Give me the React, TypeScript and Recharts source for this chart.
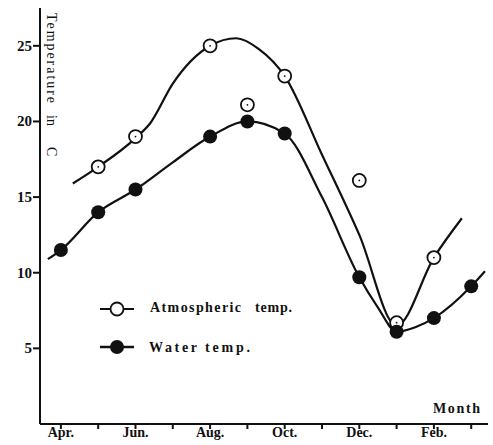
import React from 'react';
import { ComposedChart, Line, Scatter, XAxis, YAxis } from 'recharts';

// month index: Apr = 0 ... Mar = 11
const monthTicks = [0, 1, 2, 3, 4, 5, 6, 7, 8, 9, 10, 11];
const monthLabels = ['Apr.', '', 'Jun.', '', 'Aug.', '', 'Oct.', '', 'Dec.', '', 'Feb.', ''];
const tempTicks = [5, 10, 15, 20, 25];

// observed points
const atmMonths = [1, 2, 4, 5, 6, 8, 9, 10];
const atmTemps = [17.0, 19.0, 25.0, 21.1, 23.0, 16.1, 6.7, 11.0];
const waterMonths = [0, 1, 2, 4, 5, 6, 8, 9, 10, 11];
const waterTemps = [11.5, 14.0, 15.5, 19.0, 20.0, 19.2, 9.7, 6.1, 7.0, 9.1];

// freehand curves as drawn in the figure
const atmCurveMonths = [0.32, 1, 2, 2.4, 3, 4, 4.7, 5.3, 6, 7, 8, 9, 10, 10.75];
const atmCurveTemps = [15.9, 17.0, 18.9, 19.9, 22.5, 25.0, 25.5, 24.8, 23.0, 17.8, 12.5, 6.5, 11.0, 13.6];
const waterCurveMonths = [-0.35, 0, 1, 2, 3, 4, 5, 6, 7, 8, 8.5, 9, 9.5, 10, 11, 11.37];
const waterCurveTemps = [10.9, 11.5, 14.0, 15.5, 17.3, 19.0, 20.0, 19.2, 15.0, 9.7, 7.7, 6.1, 6.4, 7.0, 9.1, 10.1];

const pts = (xs: number[], ys: number[]) => xs.map((m, i) => ({ m, v: ys[i] }));

const atmPoints = pts(atmMonths, atmTemps);
const waterPoints = pts(waterMonths, waterTemps);
const atmCurve = pts(atmCurveMonths, atmCurveTemps);
const waterCurve = pts(waterCurveMonths, waterCurveTemps);

const INK = '#111';
const FONT = '"Liberation Serif", "DejaVu Serif", serif';

const OpenDot = (props: any) => (
  <g>
    <circle cx={props.cx} cy={props.cy} r={6.5} fill="#fff" stroke={INK} strokeWidth={1.8} />
    <circle cx={props.cx} cy={props.cy} r={0.9} fill={INK} />
  </g>
);

const FilledDot = (props: any) => (
  <circle cx={props.cx} cy={props.cy} r={7} fill={INK} />
);

const MonthTick = (props: any) => {
  const { x, y, payload } = props;
  return (
    <text x={x} y={y + 8} textAnchor="middle" fontFamily={FONT} fontWeight="bold" fontSize={14} fill={INK}>
      {monthLabels[payload.value]}
    </text>
  );
};

const TempTick = (props: any) => {
  const { x, y, payload } = props;
  return (
    <text x={x} y={y + 5} textAnchor="end" fontFamily={FONT} fontWeight="bold" fontSize={15} fill={INK}>
      {payload.value}
    </text>
  );
};

export default function App() {
  return (
    <div style={{ position: 'absolute', left: 0, top: 0, width: 493, height: 445, background: '#fff' }}>
      <ComposedChart width={493} height={445} margin={{ top: 8, right: 5, bottom: 0, left: 0 }}>
        <XAxis
          type="number"
          dataKey="m"
          domain={[-0.56, 11.45]}
          ticks={monthTicks}
          allowDataOverflow
          height={21}
          tickSize={5}
          tickMargin={0}
          tick={<MonthTick />}
          axisLine={{ stroke: INK, strokeWidth: 2 }}
          tickLine={{ stroke: INK, strokeWidth: 2 }}
        />
        <YAxis
          type="number"
          domain={[0, 27.5]}
          ticks={tempTicks}
          allowDataOverflow
          width={40}
          tickSize={7}
          tickMargin={1}
          tick={<TempTick />}
          axisLine={{ stroke: INK, strokeWidth: 2 }}
          tickLine={{ stroke: INK, strokeWidth: 2 }}
        />
        <Line data={atmCurve} dataKey="v" type="monotone" stroke={INK} strokeWidth={2.2} dot={false} activeDot={false} isAnimationActive={false} />
        <Line data={waterCurve} dataKey="v" type="monotone" stroke={INK} strokeWidth={2.2} dot={false} activeDot={false} isAnimationActive={false} />
        <Scatter data={atmPoints} dataKey="v" shape={<OpenDot />} isAnimationActive={false} />
        <Scatter data={waterPoints} dataKey="v" shape={<FilledDot />} isAnimationActive={false} />
      </ComposedChart>
      <svg width={493} height={445} style={{ position: 'absolute', left: 0, top: 0, pointerEvents: 'none' }}>
        <g fontFamily={FONT} fill={INK}>
          <text transform="translate(47, 13) rotate(90)" fontSize={14} textLength={90} lengthAdjust="spacing">Temperature</text>
          <text transform="translate(47, 115) rotate(90)" fontSize={14}>in</text>
          <text transform="translate(47, 147) rotate(90)" fontSize={14}>C</text>
        </g>
        <g fontFamily={FONT} fontWeight="bold" fontSize={14} fill={INK}>
          <line x1={100} y1={309} x2={134} y2={309} stroke={INK} strokeWidth={2} />
          <circle cx={117} cy={309} r={6.5} fill="#fff" stroke={INK} strokeWidth={1.8} />
          <text x={150} y={312} textLength={91} lengthAdjust="spacing">Atmospheric</text>
          <text x={255} y={312} textLength={37} lengthAdjust="spacing">temp.</text>
          <line x1={100} y1={347} x2={134} y2={347} stroke={INK} strokeWidth={2.4} />
          <circle cx={117} cy={347} r={7} fill={INK} />
          <text x={149} y={352} textLength={48} lengthAdjust="spacing">Water</text>
          <text x={205} y={352} textLength={45} lengthAdjust="spacing">temp.</text>
          <text x={433} y={413} textLength={47} lengthAdjust="spacing">Month</text>
        </g>
      </svg>
    </div>
  );
}
